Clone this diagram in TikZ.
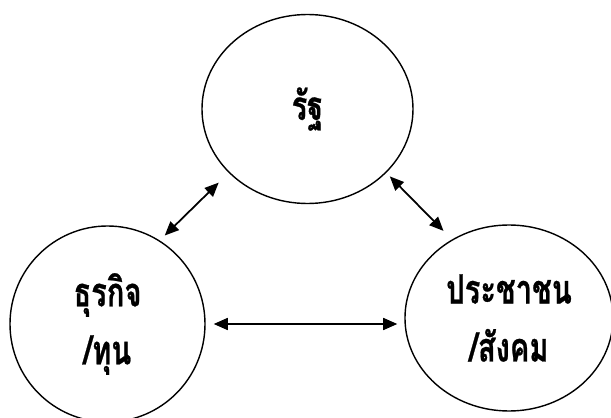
\documentclass[tikz,border=0pt]{standalone}
\usepackage{fontspec}
\newfontfamily\thaifont[Script=Thai,FakeStretch=0.72,FakeBold=0.6]{Loma}
\usetikzlibrary{shapes.geometric,arrows.meta}

\begin{document}
\begin{tikzpicture}[
		sector/.style={draw,ellipse,line width=0.4pt,inner sep=0pt,align=center,
			font=\thaifont\bfseries\fontsize{11.5}{16.5}\selectfont},
		link/.style={{Triangle[length=4pt,width=3.4pt]}-{Triangle[length=4pt,width=3.4pt]},
			line width=0.5pt}]
		\useasboundingbox (0,0) rectangle (6.11,4.18);
		\node[sector,minimum width=2.11cm,minimum height=1.89cm] (state) at (3.075,3.09) {รัฐ};
		\node[sector,minimum width=1.95cm,minimum height=1.96cm] (biz) at (1.075,0.94) {ธุรกิจ\\/ทุน};
		\node[sector,minimum width=2.08cm,minimum height=1.86cm] (people) at (5.09,1.00) {ประชาชน\\/สังคม};
		\draw[link,shorten <=0.07cm,shorten >=0.14cm] (biz.58) -- (state.219);
		\draw[link,shorten <=0.05cm,shorten >=0.12cm] (state.321) -- (people.126);
		\draw[link,shorten <=0.08cm,shorten >=0.07cm] (biz.east) -- (biz.east -| people.west);
	\end{tikzpicture}
\end{document}
